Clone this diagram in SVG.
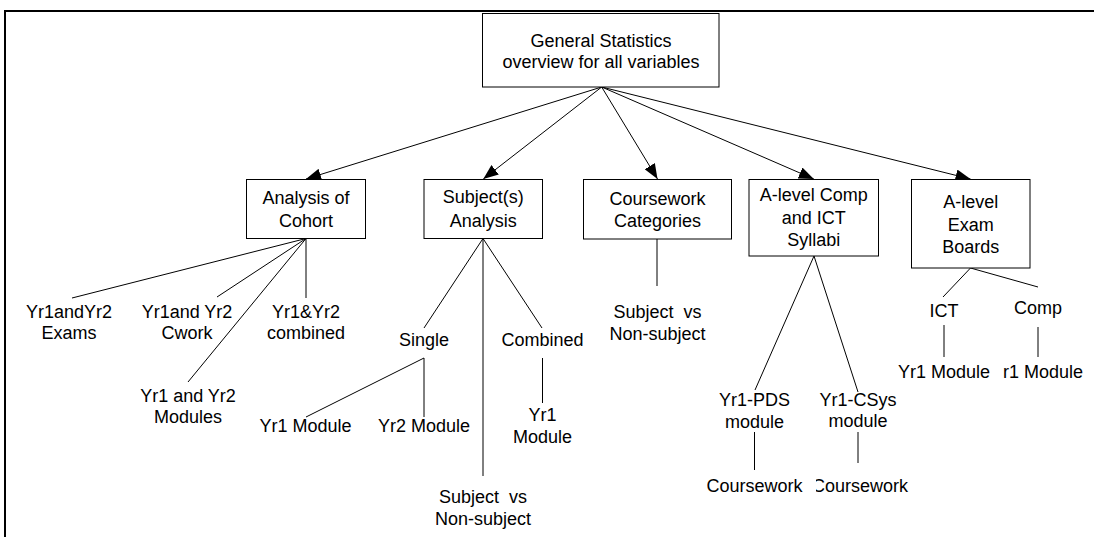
<svg xmlns="http://www.w3.org/2000/svg" width="1094" height="537" viewBox="0 0 1094 537">
<defs>
<marker id="ah" markerUnits="userSpaceOnUse" markerWidth="16" markerHeight="12" refX="15" refY="6" orient="auto">
<path d="M0,0 L15,6 L0,12 z" fill="#000"/>
</marker>
<style>
.box{fill:#fff;stroke:#000;stroke-width:1}
text{font-family:"Liberation Sans",Arial,sans-serif;font-size:18px;fill:#000;text-anchor:middle}
.ln{stroke:#000;stroke-width:1;fill:none}
.ar{stroke:#000;stroke-width:1;fill:none;marker-end:url(#ah)}
.frame{stroke:#000;stroke-width:2;fill:none}
</style>
</defs>
<rect width="1094" height="537" fill="#fff"/>
<path class="frame" d="M5,537 V11 H1094"/>

<g id="connectors">
<line class="ar" x1="601.7" y1="87" x2="306" y2="179"/>
<line class="ar" x1="601.7" y1="87" x2="483.3" y2="179"/>
<line class="ar" x1="601.7" y1="87" x2="657.5" y2="179"/>
<line class="ar" x1="601.7" y1="87" x2="813.8" y2="179"/>
<line class="ar" x1="601.7" y1="87" x2="970.5" y2="179"/>
<line class="ln" x1="306" y1="238.5" x2="72" y2="298"/>
<line class="ln" x1="306" y1="238.5" x2="217" y2="297"/>
<line class="ln" x1="306" y1="238.5" x2="188" y2="382"/>
<line class="ln" x1="306" y1="238.5" x2="306" y2="298"/>
<line class="ln" x1="483" y1="238.5" x2="424" y2="328"/>
<line class="ln" x1="483" y1="238.5" x2="542" y2="328"/>
<line class="ln" x1="483" y1="238.5" x2="483" y2="476"/>
<line class="ln" x1="424" y1="358" x2="306" y2="417"/>
<line class="ln" x1="424" y1="358" x2="424" y2="417"/>
<line class="ln" x1="542.5" y1="358" x2="542.5" y2="403"/>
<line class="ln" x1="657" y1="239" x2="657" y2="286"/>
<line class="ln" x1="814" y1="256" x2="755" y2="390"/>
<line class="ln" x1="814" y1="256" x2="858" y2="392"/>
<line class="ln" x1="754.5" y1="432" x2="754.5" y2="470"/>
<line class="ln" x1="858" y1="432" x2="858" y2="463"/>
<line class="ln" x1="970.5" y1="268" x2="943" y2="297"/>
<line class="ln" x1="970.5" y1="268" x2="1038" y2="287"/>
<line class="ln" x1="944" y1="325" x2="944" y2="357"/>
<line class="ln" x1="1038" y1="327" x2="1038" y2="357"/>
</g>

<g id="root">
<rect class="box" x="482.5" y="13.5" width="236.5" height="73.5"/>
<text x="601" y="47">General Statistics</text>
<text x="601" y="68">overview for all variables</text>
</g>

<g id="cohort">
<rect class="box" x="246.5" y="179.5" width="119" height="59"/>
<text x="306" y="204">Analysis of</text>
<text x="306" y="227">Cohort</text>
</g>
<g id="subject">
<rect class="box" x="424" y="179.5" width="118.5" height="59"/>
<text x="483.3" y="203">Subject(s)</text>
<text x="483.3" y="226.5">Analysis</text>
</g>
<g id="coursework">
<rect class="box" x="583.5" y="179.5" width="148" height="59.5"/>
<text x="657.5" y="205">Coursework</text>
<text x="657.5" y="226.5">Categories</text>
</g>
<g id="alevelcomp">
<rect class="box" x="749" y="179.5" width="129.5" height="76.5"/>
<text x="813.8" y="201">A-level Comp</text>
<text x="813.8" y="223.5">and ICT</text>
<text x="813.8" y="246">Syllabi</text>
</g>
<g id="examboards">
<rect class="box" x="911.5" y="179.5" width="118.5" height="88.5"/>
<text x="970.7" y="208">A-level</text>
<text x="970.7" y="230.5">Exam</text>
<text x="970.7" y="253">Boards</text>
</g>

<g id="exams"><text x="69" y="318">Yr1andYr2</text><text x="69" y="339">Exams</text></g>
<g id="cwork"><text x="187" y="318">Yr1and Yr2</text><text x="187" y="339">Cwork</text></g>
<g id="combined-cohort"><text x="306" y="318">Yr1&amp;Yr2</text><text x="306" y="339">combined</text></g>
<g id="modules"><text x="188" y="402">Yr1 and Yr2</text><text x="188" y="423">Modules</text></g>

<g id="single"><text x="424" y="346">Single</text></g>
<g id="combined"><text x="542.5" y="346">Combined</text></g>
<g id="single-yr1"><text x="305.5" y="432">Yr1 Module</text></g>
<g id="single-yr2"><text x="424" y="432">Yr2 Module</text></g>
<g id="combined-yr1"><text x="542.5" y="421">Yr1</text><text x="542.5" y="443">Module</text></g>
<g id="subject-vs"><text x="483" y="503" xml:space="preserve">Subject  vs</text><text x="483" y="524.5">Non-subject</text></g>

<g id="cw-subject-vs"><text x="657.5" y="318" xml:space="preserve">Subject  vs</text><text x="657.5" y="339.5">Non-subject</text></g>

<g id="pds"><text x="754.5" y="405.5">Yr1-PDS</text><text x="754.5" y="428">module</text></g>
<g id="csys"><text x="858" y="406">Yr1-CSys</text><text x="858" y="427">module</text></g>
<g id="csys-cw"><text x="860" y="491.5">Coursework</text></g>
<g id="pds-cw"><rect x="700" y="474" width="116" height="22" fill="#fff"/><text x="754.5" y="491.5">Coursework</text></g>

<g id="ict"><text x="944" y="317">ICT</text></g>
<g id="comp"><text x="1038" y="314">Comp</text></g>
<g id="ict-yr1"><text x="944" y="378">Yr1 Module</text></g>
<g id="comp-yr1"><text x="1003" y="378" style="text-anchor:start">r1 Module</text></g>
</svg>
